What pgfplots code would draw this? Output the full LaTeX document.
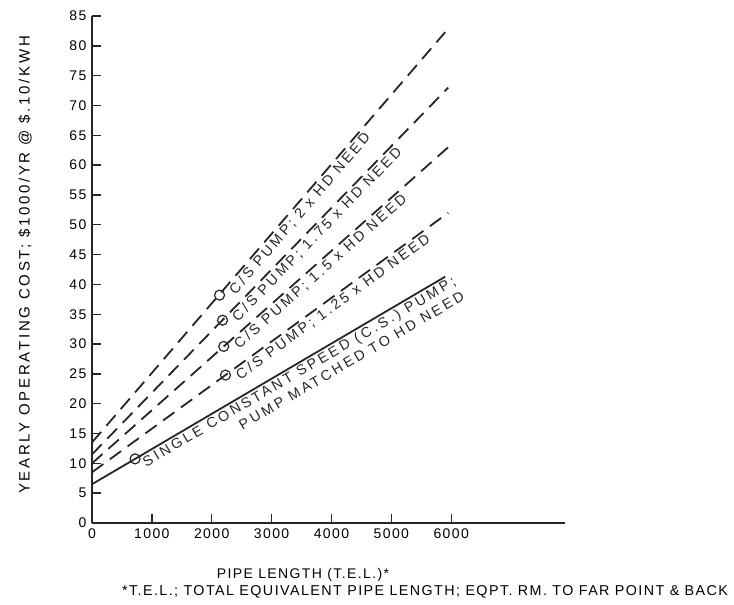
\documentclass[border=0pt]{standalone}
\usepackage{pgfplots}
\pgfplotsset{compat=1.18}
\usepackage{fontspec}
\setmainfont{Liberation Sans}[LetterSpace=10]
\newfontfamily\widefont{Liberation Sans}[LetterSpace=20]
\newfontfamily\ylabfont{Liberation Sans}[LetterSpace=18]
\newcommand{\lblfont}{\widefont\fontsize{14.3}{17}\selectfont}
\newcommand{\tickfont}{\fontsize{14}{16}\selectfont}
\begin{document}
\begin{tikzpicture}
\path[use as bounding box] (-92pt,-82pt) rectangle (642pt,523pt);
\begin{axis}[
  scale only axis, width=473pt, height=507pt,
  anchor=south west, at={(0pt,0pt)},
  xmin=0, xmax=7900, ymin=0, ymax=85,
  axis x line=bottom, axis y line=left,
  axis line style={-, line width=2pt, black!85},
  xtick={0,1000,...,6000}, ytick={0,5,...,85},
  scaled ticks=false,
  tick align=inside, major tick length=9pt,
  tick style={line width=1.4pt, black!85},
  /pgf/number format/assume math mode=true,
  /pgf/number format/set thousands separator={},
  ticklabel style={font=\tickfont},
  yticklabel style={xshift=-2pt},
  xticklabel style={yshift=-2pt},
  clip=false,
]
\addplot[black!85, line width=1.8pt] coordinates {(0,6.5) (5900,41.3)}
  node[pos=0.13, sloped, anchor=north west, inner sep=1.5pt, align=right, font=\lblfont] {SINGLE CONSTANT SPEED (C.S.) PUMP;\\PUMP MATCHED TO HD NEED};
\addplot[black!85, line width=1.8pt, dash pattern=on 14pt off 8pt] coordinates {(0,8.5) (5950,52)}
  node[pos=0.39, sloped, anchor=north west, inner sep=1.5pt, font=\lblfont] {C/S PUMP; 1.25 x HD NEED};
\addplot[black!85, line width=1.8pt, dash pattern=on 14pt off 8pt] coordinates {(0,10) (5950,63)}
  node[pos=0.385, sloped, anchor=north west, inner sep=1.5pt, font=\lblfont] {C/S PUMP; 1.5 x HD NEED};
\addplot[black!85, line width=1.8pt, dash pattern=on 14pt off 8pt] coordinates {(0,11.5) (5950,73)}
  node[pos=0.38, sloped, anchor=north west, inner sep=1.5pt, font=\lblfont] {C/S PUMP; 1.75 x HD NEED};
\addplot[black!85, line width=1.8pt, dash pattern=on 14pt off 8pt] coordinates {(0,13.5) (5900,82.3)}
  node[pos=0.375, sloped, anchor=north west, inner sep=1.5pt, font=\lblfont] {C/S PUMP; 2 x HD NEED};
\addplot[only marks, mark=o, mark size=5pt, black!85, line width=1.2pt] coordinates {(720,10.75) (2230,24.8) (2200,29.6) (2180,34.0) (2130,38.2)};
\end{axis}
\node[rotate=90, font=\ylabfont\fontsize{15}{18}\selectfont] at (-67pt,258pt) {YEARLY OPERATING COST; \$1000/YR @ \$.10/KWH};
\node[font=\fontsize{14}{16}\selectfont] at (211pt,-52pt) {PIPE LENGTH (T.E.L.)*};
\node[font=\fontsize{14.3}{16}\selectfont] at (333pt,-69pt) {*T.E.L.; TOTAL EQUIVALENT PIPE LENGTH; EQPT. RM. TO FAR POINT \& BACK};
\end{tikzpicture}
\end{document}
